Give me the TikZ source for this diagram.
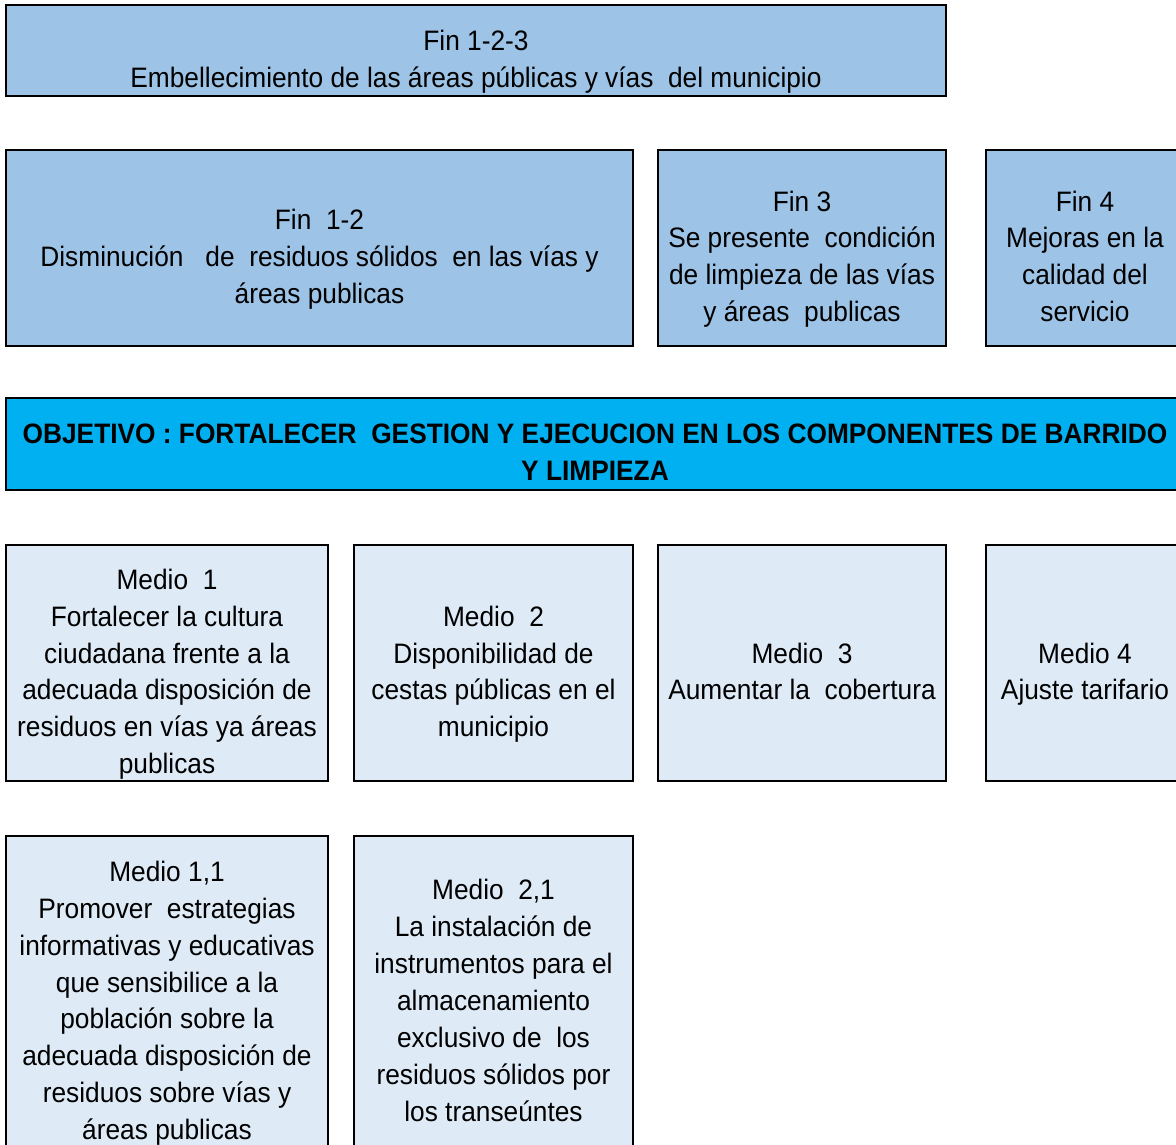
\documentclass[tikz,border=0pt]{standalone}
\usepackage{fontspec}
\setmainfont{Liberation Sans}[FakeStretch=0.935]
\usetikzlibrary{positioning}

\definecolor{finblue}{HTML}{9DC3E6}
\definecolor{objblue}{HTML}{00B0F0}
\definecolor{medioblue}{HTML}{DEEBF7}

\begin{document}
\begin{tikzpicture}[
  box/.style={draw=black, line width=1.1pt, align=center, inner sep=0pt,
    font=\fontsize{16}{21}\selectfont, text depth=0pt},
  finbox/.style={box, fill=finblue},
  objbox/.style={box, fill=objblue, font=\fontsize{16}{21}\selectfont\bfseries},
  mediobox/.style={box, fill=medioblue}
]
\clip (0,0) rectangle (23.52,-22.9);

% Fines (empty first line pushes the text a little down).
\node[finbox, minimum width=18.8cm, minimum height=1.82cm] (fin123) at (9.52,-1.01)
  {\\Fin 1-2-3\\Embellecimiento de las áreas públicas y vías \ del municipio};
\node[finbox, minimum width=12.54cm, minimum height=3.92cm] (fin12) at (6.39,-4.96)
  {\\Fin \ 1-2\\Disminución \ \ de \ residuos sólidos \ en las vías y\\áreas publicas};
\node[finbox, minimum width=5.76cm, minimum height=3.92cm] (fin3) at (16.04,-4.96)
  {\\Fin 3\\Se presente \ condición\\de limpieza de las vías\\y áreas \ publicas};
\node[finbox, minimum width=3.96cm, minimum height=3.92cm] (fin4) at (21.70,-4.96)
  {\\Fin 4\\Mejoras en la\\calidad del\\servicio};

% Objetivo.
\node[objbox, minimum width=23.56cm, minimum height=1.84cm] (obj) at (11.90,-8.88)
  {\\OBJETIVO : FORTALECER \ GESTION Y EJECUCION EN LOS COMPONENTES DE BARRIDO\\Y LIMPIEZA};

% Medios.
\node[mediobox, minimum width=6.44cm, minimum height=4.72cm] (medio1) at (3.34,-13.26)
  {\\Medio \ 1\\Fortalecer la cultura\\ciudadana frente a la\\adecuada disposición de\\residuos en vías ya áreas\\publicas};
\node[mediobox, minimum width=5.58cm, minimum height=4.72cm] (medio2) at (9.87,-13.26)
  {\\Medio \ 2\\Disponibilidad de\\cestas públicas en el\\municipio};
\node[mediobox, minimum width=5.76cm, minimum height=4.72cm] (medio3) at (16.04,-13.26)
  {\\Medio \ 3\\Aumentar la \ cobertura};
\node[mediobox, minimum width=3.96cm, minimum height=4.72cm] (medio4) at (21.70,-13.26)
  {\\Medio 4\\Ajuste tarifario};

\node[mediobox, minimum width=6.44cm, minimum height=6.24cm] (medio11) at (3.34,-19.84)
  {\\Medio 1,1\\Promover \ estrategias\\informativas y educativas\\que sensibilice a la\\población sobre la\\adecuada disposición de\\residuos sobre vías y\\áreas publicas};
\node[mediobox, minimum width=5.58cm, minimum height=6.24cm] (medio21) at (9.87,-19.84)
  {\\Medio \ 2,1\\La instalación de\\instrumentos para el\\almacenamiento\\exclusivo de \ los\\residuos sólidos por\\los transeúntes};
\end{tikzpicture}
\end{document}
